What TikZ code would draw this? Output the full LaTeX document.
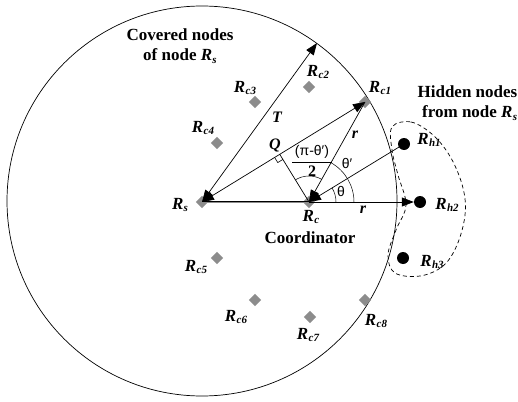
\documentclass[tikz,border=0pt]{standalone}
\usepackage{fontspec}
\setmainfont{Liberation Serif}
\newfontfamily\greekfont{Liberation Sans}
\usetikzlibrary{arrows.meta,calc,shapes.geometric}
\newcommand\Rlab[1]{\fontsize{17}{17}\selectfont\bfseries\itshape R\kern0.3pt\raisebox{-0.35ex}{\fontsize{11}{11}\selectfont #1}}
\begin{document}
\begin{tikzpicture}[x=1pt,y=-1pt,
  dia/.style={diamond,fill=black!45,inner sep=0pt,minimum size=12.5pt},
  hid/.style={circle,fill=black,inner sep=0pt,minimum size=12pt},
  lab/.style={inner sep=0pt},
  big/.style={inner sep=0pt,font=\fontsize{17}{17}\selectfont\bfseries},
  gk/.style={inner sep=0pt,font=\greekfont\fontsize{14}{14}\selectfont},
  tri/.style={-{Triangle[length=12pt,width=9pt]}},
  dtri/.style={{Triangle[length=12pt,width=9pt]}-{Triangle[length=12pt,width=9pt]}},
  thin line/.style={line width=0.7pt}]
\useasboundingbox (0,0) rectangle (518,401);
% big circle
\coordinate (C) at (202,201);
\draw[thin line] (C) circle[radius=195];
% nodes
\node[dia] (Rs) at (202,202) {};
\node[dia] (Rc) at (309,202) {};
\node[dia] (Rc1) at (365,102) {};
\node[dia] (Rc2) at (309,87) {};
\node[dia] (Rc3) at (255,102) {};
\node[dia] (Rc4) at (217,143) {};
\node[dia] (Rc5) at (217,258) {};
\node[dia] (Rc6) at (255,300) {};
\node[dia] (Rc7) at (310,317) {};
\node[dia] (Rc8) at (365,300) {};
\node[hid] (Rh1) at (404,144) {};
\node[hid] (Rh2) at (420,202) {};
\node[hid] (Rh3) at (403,258) {};
\coordinate (Ttop) at (317,43);
\coordinate (Q) at ($(Rs.center)!(Rc.center)!(Rc1.center)$);
% dashed group
\draw[dash pattern=on 4pt off 3pt,thin line] plot[smooth cycle,tension=0.6] coordinates {(392,127) (411,122) (433,135) (451,158) (463,188) (465,215) (457,245) (443,266) (420,276) (395,273) (388,255) (396,230) (406,205) (398,175) (392,150)};
% lines
\draw[black!45,line width=2.2pt] (Rs.center) -- (Rc.center);
\draw[thin line] ($(Rs.center)+(0,-0.8)$) -- ($(Rc.center)+(0,-0.8)$);
\draw[thin line] (Rc.center) -- (Q);
\draw[thin line,dtri] (Rs.center) -- (Ttop);
\draw[thin line,dtri] (Rs.center) -- (Rc1.center);
\draw[thin line,tri] (Rc1.center) -- (Rc.center);
\draw[thin line,tri] (Rh1.center) -- (Rc.center);
\draw[thin line,tri] (Rc.center) -- (Rh2.west);
% right-angle mark
\coordinate (QA) at ($(Q)!6pt!(Rs.center)$);
\coordinate (QB) at ($(Q)!6pt!(Rc.center)$);
\draw[line width=0.6pt] (QA) -- ($(QA)+(QB)-(Q)$) -- (QB);
% angle arcs
\draw[line width=0.5pt] (Rc.center) ++(27,0) arc[start angle=0,end angle=-31.4,radius=27];
\draw[line width=0.5pt] (Rc.center) ++(45,0) arc[start angle=0,end angle=-60.75,radius=45];
\draw[line width=0.5pt] (Rc.center) ++(-60.75:26) arc[start angle=-60.75,end angle=-121.5,radius=26];
% labels
\node[lab] (lRs) at (180,205) {\Rlab{s}};
\node[lab] (lRc) at (311,217) {\Rlab{c}};
\node[lab] (lRc1) at (380,88) {\Rlab{c1}};
\node[lab] (lRc2) at (318,72) {\Rlab{c2}};
\node[lab] (lRc3) at (245,88) {\Rlab{c3}};
\node[lab] (lRc4) at (203,128) {\Rlab{c4}};
\node[lab] (lRc5) at (196,267) {\Rlab{c5}};
\node[lab] (lRc6) at (236,317) {\Rlab{c6}};
\node[lab] (lRc7) at (308,335) {\Rlab{c7}};
\node[lab] (lRc8) at (376,321) {\Rlab{c8}};
\node[lab] (lRh1) at (429,140) {\Rlab{h1}};
\node[lab] (lRh2) at (447,205) {\Rlab{h2}};
\node[lab] (lRh3) at (432,262) {\Rlab{h3}};
\node[big] (tCov1) at (180,35) {Covered nodes};
\node[big] (tCov2) at (180,56) {of node \Rlab{s}};
\node[big,anchor=east] (tHid1) at (517.5,92) {Hidden nodes};
\node[big,anchor=west] (tHid2) at (422,113) {from node \Rlab{s}};
\node[big] (tCoord) at (310,238) {Coordinator};
\node[big,font=\fontsize{16}{16}\selectfont\bfseries\itshape] (lT) at (277,117) {T};
\node[big,font=\fontsize{16}{16}\selectfont\bfseries\itshape] (lQ) at (275,145) {Q};
\node[big,font=\fontsize{16}{16}\selectfont\bfseries\itshape] (lr1) at (355,135) {r};
\node[big,font=\fontsize{16}{16}\selectfont\bfseries\itshape] (lr2) at (363,210) {r};
\node[gk] (lpi) at (312,152) {(π-θ′)};
\draw[line width=0.6pt] (292,162) -- (332,162);
\node[big,font=\fontsize{16}{16}\selectfont\bfseries] (l2) at (312,171) {2};
\node[gk] (lthp) at (347,163) {θ′};
\node[gk] (lth) at (341,191) {θ};
\end{tikzpicture}
\end{document}
